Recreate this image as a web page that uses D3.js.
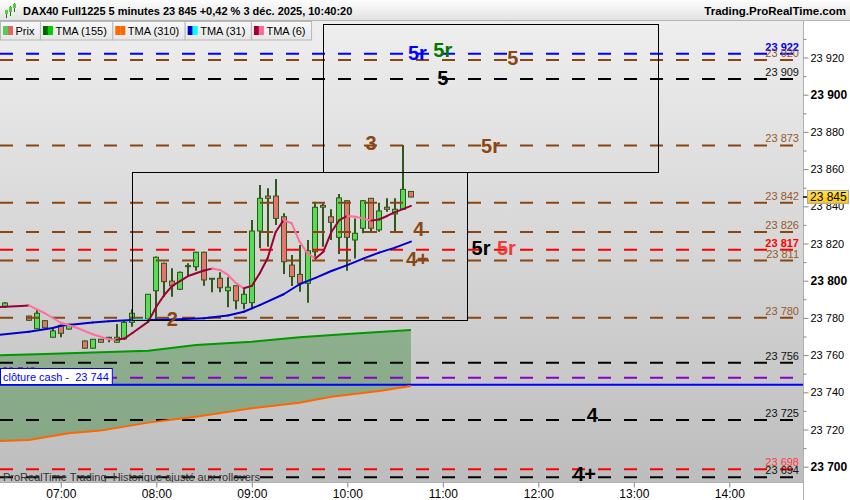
<!DOCTYPE html>
<html><head><meta charset="utf-8">
<script src="https://cdn.jsdelivr.net/npm/d3@7"></script>
<style>
body{margin:0;background:#fff;}
svg{display:block;font-family:"Liberation Sans",Arial,sans-serif;}
text{white-space:pre;}
</style>
</head><body>
<svg id="c" width="850" height="500"></svg>
<script>
// ---------------- DATA ----------------
const candleTimes = ["06:25","06:40","06:45","06:50","06:55","07:00","07:05","07:15","07:20","07:25","07:30","07:35","07:40","07:45","07:55","08:00","08:05","08:10","08:15","08:20","08:25","08:30","08:35","08:40","08:45","08:50","08:55","09:00","09:05","09:10","09:15","09:20","09:25","09:30","09:35","09:40","09:45","09:50","09:55","10:00","10:05","10:10","10:15","10:20","10:25","10:30","10:35","10:40"];
const candleOpen  = [23786.0,23781.0,23774.2,23778.5,23769.6,23776.0,23774.0,23767.6,23763.7,23768.5,23769.0,23766.9,23768.7,23777.6,23779.4,23794.6,23809.4,23799.8,23795.4,23807.6,23807.5,23815.3,23800.8,23801.3,23794.6,23797.3,23787.8,23788.2,23826.7,23845.5,23845.5,23834.4,23808.4,23803.4,23798.6,23815.6,23840.5,23834.4,23823.3,23843.0,23821.9,23828.2,23844.3,23827.3,23839.5,23835.9,23838.4,23848.0];
const candleHigh  = [23788.5,23781.2,23784.6,23778.8,23774.0,23776.2,23776.8,23767.8,23768.7,23768.7,23769.6,23776.7,23778.5,23784.6,23792.9,23813.0,23809.6,23806.7,23805.0,23809.4,23815.5,23815.5,23801.3,23804.5,23801.8,23797.5,23795.9,23832.6,23851.5,23849.7,23854.7,23836.2,23813.8,23819.2,23821.9,23842.5,23841.6,23838.4,23846.6,23843.2,23833.5,23843.4,23844.5,23841.9,23844.3,23844.3,23873.0,23848.2];
const candleLow   = [23785.5,23778.5,23774.0,23774.5,23769.4,23769.6,23773.8,23763.5,23763.5,23766.9,23766.9,23766.9,23768.5,23775.3,23779.2,23779.4,23791.4,23791.4,23795.0,23802.2,23805.4,23797.3,23793.8,23793.8,23785.7,23784.6,23784.6,23784.6,23817.4,23818.3,23829.9,23803.6,23797.2,23794.1,23788.2,23812.9,23818.3,23821.9,23814.4,23805.4,23812.0,23825.5,23826.3,23826.3,23837.1,23826.3,23838.4,23844.8];
const candleClose = [23788.0,23778.7,23782.5,23774.7,23773.0,23771.7,23776.6,23763.7,23768.5,23766.9,23769.6,23769.6,23777.6,23782.5,23792.7,23812.6,23799.5,23797.3,23804.5,23808.1,23815.3,23800.4,23801.3,23796.2,23796.5,23789.2,23792.7,23826.7,23844.3,23844.3,23833.5,23810.2,23802.2,23798.6,23816.1,23839.5,23839.5,23831.4,23844.5,23823.3,23825.5,23843.0,23828.2,23837.5,23838.4,23838.4,23849.1,23845.0];

const tma6Times  = ["06:15","06:25","06:35","06:40","06:45","06:50","07:00","07:10","07:20","07:30","07:35","07:40","07:45","07:55","08:00","08:05","08:10","08:20","08:30","08:35","08:40","08:45","08:50","08:55","09:00","09:05","09:10","09:15","09:20","09:25","09:30","09:35","09:40","09:45","09:50","09:55","10:00","10:05","10:10","10:15","10:20","10:25","10:30","10:35","10:40"];
const tma6Values = [23785.4,23786.0,23786.4,23786.7,23784.6,23782.5,23777.4,23774.7,23771.2,23768.5,23768.2,23768.9,23771.9,23778.0,23786.0,23792.3,23797.2,23802.5,23805.5,23806.5,23805.8,23803.1,23798.8,23795.9,23797.2,23804.0,23812.2,23826.2,23832.6,23830.9,23821.0,23814.7,23811.9,23815.6,23826.2,23832.6,23834.8,23834.4,23833.4,23832.3,23832.9,23834.8,23836.9,23838.5,23840.2];

const tma31Times  = ["06:20","06:40","06:55","07:00","07:20","07:30","07:45","07:55","08:10","08:30","08:45","08:55","09:05","09:20","09:30","09:40","09:50","10:00","10:10","10:20","10:30","10:40"];
const tma31Values = [23770.8,23772.6,23774.6,23775.8,23777.5,23778.2,23778.9,23778.9,23779.1,23779.8,23781.3,23783.3,23786.9,23792.7,23798.1,23801.5,23805.2,23808.4,23811.9,23815.1,23817.8,23821.0];

const tma155Times  = ["06:20","06:45","07:25","07:55","08:25","09:00","09:30","10:00","10:40"];
const tma155Values = [23759.9,23760.5,23761.5,23762.4,23765.4,23767.2,23769.6,23771.3,23773.5];

const tma310Times  = ["06:20","06:40","07:05","07:25","07:55","08:25","09:00","09:30","09:50","10:20","10:40"];
const tma310Values = [23713.8,23714.4,23718.0,23719.4,23723.7,23726.9,23731.4,23734.4,23737.6,23740.7,23743.4];

const levelValues = [23922.0,23918.7,23908.5,23872.7,23841.9,23826.2,23816.6,23810.8,23780.1,23755.9,23747.8,23725.1,23698.6,23694.3];
const levelLabels = ["23 922","23 920","23 909","23 873","23 842","23 826","23 817","23 811","23 780","23 756","23 748","23 725","23 698","23 694"];
const levelKinds  = ["blue","brown","black","brown","brown","brown","red","brown","brown","black","purple","black","red2","black"];

const cashValue = 23744;
const cashLabel = "clôture cash -  23 744";

const annTexts  = ["5r","5r","5","5","3","5r","4","4+","5r","5r","2","4","4+"];
const annTimes  = ["10:44","11:00","11:44","11:00","10:15","11:30","10:45","10:44","11:24","11:40","08:10","12:34","12:29"];
const annPrices = [23922.7,23924.0,23919.9,23908.9,23873.9,23872.4,23828.1,23811.9,23817.6,23817.6,23779.7,23728.1,23696.1];
const annKinds  = ["blue","green","brown","black","brown","brown","brown","brown","black","red","brown","black","black"];

const boxStart = ["07:45","09:45"];
const boxEnd   = ["11:15","13:15"];
const boxHigh  = [23858.3,23937.8];
const boxLow   = [23778.9,23858.3];

const yTickValues = [23700,23710,23720,23730,23740,23750,23760,23770,23780,23790,23800,23810,23820,23830,23840,23850,23860,23870,23880,23890,23900,23910,23920,23930];
const lastPrice = 23845;
const titleText = "DAX40 Full1225 5 minutes 23 845 +0,42 % 3 déc. 2025, 10:40:20";
const siteText = "Trading.ProRealTime.com";
const footText = "ProRealTime Trading  Historique ajusté aux rollovers";
const legendNames = ["Prix","TMA (155)","TMA (310)","TMA (31)","TMA (6)"];

// ---------------- STYLE ----------------
const kindColor = {blue:"#0000ff",brown:"#8b4513",black:"#000000",red:"#ff0000",red2:"#ff0000",purple:"#8800cc",green:"#008000"};
const labelColor = {blue:"#0000ff",brown:"#955a2c",black:"#111111",red:"#ff0000",red2:"#ff3b3b",purple:"#8800cc"};
const annColor = {blue:"#0000ff",green:"#007700",brown:"#8b4513",black:"#000000",red:"#ee3b3b"};
const legendSwatches = [["#55cc55","#e06666"],["#006600","#00cc00"],["#ff6600","#ff6600"],["#0000cc","#00ffff"],["#990033","#ff6699"]];

// ---------------- SETUP ----------------
const svg = d3.select("#c");
const plotL=0, plotR=803, plotT=21, plotB=482;
const T = s => { const [h,m]=s.split(":").map(Number); return new Date(2025,11,3,h,m); };
const xRef = d3.scaleTime().domain([T("08:00"),T("12:00")]).range([156.3,538.3]);
const x = d3.scaleTime().domain([xRef.invert(plotL), xRef.invert(plotR)]).range([plotL,plotR]);
const yRef = d3.scaleLinear().domain([23700,23800]).range([466.7,280.7]);
const y = d3.scaleLinear().domain([yRef.invert(plotB), yRef.invert(plotT)]).range([plotB,plotT]);
const fmt = d3.formatLocale({decimal:",",thousands:" ",grouping:[3],currency:["","€"]}).format(",d");

const defs = svg.append("defs");
const bg = defs.append("linearGradient").attr("id","bg").attr("x1",0).attr("y1",0).attr("x2",0).attr("y2",1);
bg.append("stop").attr("offset","0%").attr("stop-color","#eeeeee");
bg.append("stop").attr("offset","100%").attr("stop-color","#bdbdbd");
const hg = defs.append("linearGradient").attr("id","hg").attr("x1",0).attr("y1",0).attr("x2",0).attr("y2",1);
hg.append("stop").attr("offset","0%").attr("stop-color","#fdfdfd");
hg.append("stop").attr("offset","100%").attr("stop-color","#e2e2e2");
const lg = defs.append("linearGradient").attr("id","lg").attr("x1",0).attr("y1",0).attr("x2",0).attr("y2",1);
lg.append("stop").attr("offset","0%").attr("stop-color","#f8f8f8");
lg.append("stop").attr("offset","100%").attr("stop-color","#e6e6e6");
const pg = defs.append("linearGradient").attr("id","pg").attr("x1",0).attr("y1",0).attr("x2",0).attr("y2",1);
pg.append("stop").attr("offset","0%").attr("stop-color","#ffe45c");
pg.append("stop").attr("offset","100%").attr("stop-color","#ffc400");
defs.append("clipPath").attr("id","clip").append("rect").attr("x",plotL).attr("y",plotT).attr("width",plotR-plotL).attr("height",plotB-plotT);

svg.append("rect").attr("width",850).attr("height",500).attr("fill","#fff");
svg.append("rect").attr("x",plotL).attr("y",plotT).attr("width",plotR-plotL).attr("height",plotB-plotT).attr("fill","url(#bg)");

const g = svg.append("g").attr("clip-path","url(#clip)");

// fill between TMA155 and TMA310
const p155 = tma155Times.map((t,i)=>[x(T(t)), y(tma155Values[i])]);
const p310 = tma310Times.map((t,i)=>[x(T(t)), y(tma310Values[i])]);
g.append("path").attr("d", d3.line()(p155.concat(p310.slice().reverse()))+"Z")
  .attr("fill","rgb(0,110,0)").attr("fill-opacity",0.3);

// candles
const candles = candleTimes.map((t,i)=>({t:T(t),o:candleOpen[i],h:candleHigh[i],l:candleLow[i],c:candleClose[i]}));
const cg = g.append("g");
candles.forEach(d=>{
  const cx = Math.round(x(d.t));
  cg.append("line").attr("x1",cx).attr("x2",cx).attr("y1",y(d.h)).attr("y2",y(d.l))
    .attr("stroke","#2d5a1b").attr("stroke-width",2);
  const top = Math.min(y(d.o),y(d.c)), bot = Math.max(y(d.o),y(d.c));
  const hgt = Math.max(1, bot-top);
  cg.append("rect").attr("x",cx-2.5).attr("y",top).attr("width",5).attr("height",hgt)
    .attr("fill", d.c>=d.o ? "#55dd55" : "#e8756d").attr("stroke","#2d5a1b").attr("stroke-width",1);
});

// level lines
levelValues.forEach((v,i)=>{
  g.append("line").attr("x1",plotL).attr("x2",plotR).attr("y1",y(v)).attr("y2",y(v))
    .attr("stroke",kindColor[levelKinds[i]]).attr("stroke-width",2).attr("stroke-dasharray","13,13");
});
// cash line
g.append("line").attr("x1",plotL).attr("x2",plotR).attr("y1",y(cashValue)).attr("y2",y(cashValue))
  .attr("stroke","#0000ff").attr("stroke-width",2);

// moving averages
function segLine(times, vals, up, down){
  for(let i=1;i<times.length;i++){
    g.append("line").attr("x1",x(T(times[i-1]))).attr("y1",y(vals[i-1]))
      .attr("x2",x(T(times[i]))).attr("y2",y(vals[i]))
      .attr("stroke", vals[i]>vals[i-1]?up:down).attr("stroke-width",2).attr("stroke-linecap","round");
  }
}
const line = d3.line();
g.append("path").attr("d",line(p310)).attr("fill","none").attr("stroke","#ff6600").attr("stroke-width",2);
g.append("path").attr("d",line(p155)).attr("fill","none").attr("stroke","#009900").attr("stroke-width",2);
segLine(tma31Times, tma31Values, "#0000cc", "#00e5ee");
segLine(tma6Times, tma6Values, "#990033", "#ff6f9f");

// boxes
boxStart.forEach((s,i)=>{
  const x0 = Math.round(x(T(s)))+0.5, x1 = Math.round(x(T(boxEnd[i])))+0.5;
  const y0 = Math.round(y(boxHigh[i]))+0.5, y1 = Math.round(y(boxLow[i]))+0.5;
  g.append("rect").attr("x",x0).attr("y",y0).attr("width",x1-x0).attr("height",y1-y0)
    .attr("fill","none").attr("stroke","#000").attr("stroke-width",1);
});

// level value labels (right)
levelValues.forEach((v,i)=>{
  const k = levelKinds[i];
  if(k==="purple"){
    g.append("text").attr("x",2).attr("y",y(v)-3).attr("font-size",11).attr("fill",labelColor[k]).text(levelLabels[i]);
  } else {
    g.append("text").attr("x",799).attr("y",y(v)-3).attr("text-anchor","end").attr("font-size",11)
      .attr("font-weight",(k==="blue"||k==="red")?"bold":"normal")
      .attr("fill",labelColor[k]).text(levelLabels[i]);
  }
});

// annotations
annTexts.forEach((s,i)=>{
  g.append("text").attr("x",x(T(annTimes[i]))).attr("y",y(annPrices[i])).attr("dy","0.36em")
    .attr("text-anchor","middle").attr("font-size",20).attr("font-weight","bold")
    .attr("fill",annColor[annKinds[i]]).text(s);
});

// cash label box
const cy = Math.round(y(cashValue));
const cashBox = svg.append("g");
const cashTxt = cashBox.append("text").attr("x",3).attr("y",cy-4.5).attr("font-size",11).attr("fill","#0000ff").text(cashLabel);
const cw = cashTxt.node().getComputedTextLength();
cashBox.insert("rect","text").attr("x",0.5).attr("y",cy-16.5).attr("width",cw+6).attr("height",16).attr("fill","#fff").attr("stroke","#0000ff");

// footer text
svg.append("text").attr("x",3).attr("y",480.5).attr("font-size",11).attr("fill","#333").text(footText);

// axes
svg.append("line").attr("x1",plotR+0.5).attr("x2",plotR+0.5).attr("y1",plotT).attr("y2",500).attr("stroke","#b0b0b0");
svg.append("line").attr("x1",0).attr("x2",plotR).attr("y1",plotB+0.5).attr("y2",plotB+0.5).attr("stroke","#b0b0b0");

const ya = svg.append("g").attr("transform",`translate(${plotR+0.5},0)`);
ya.call(d3.axisRight(y).tickValues(yTickValues).tickSize(5).tickFormat(d=> d%20===0 ? fmt(d) : ""));
ya.select(".domain").remove();
ya.selectAll(".tick line").attr("stroke","#888").attr("x2",d=>d%20===0?5:3);
ya.selectAll(".tick text").attr("x",7).attr("fill","#000").attr("font-family","Liberation Sans, Arial, sans-serif")
  .attr("font-size",d=>d%100===0?12:11).attr("font-weight",d=>d%100===0?"bold":"normal");

const xa = svg.append("g").attr("transform",`translate(0,${plotB+0.5})`);
xa.call(d3.axisBottom(x).ticks(d3.timeHour.every(1)).tickSize(5).tickFormat(d3.timeFormat("%H:%M")));
xa.select(".domain").remove();
xa.selectAll(".tick line").attr("stroke","#888");
xa.selectAll(".tick text").attr("fill","#000").attr("font-size",12).attr("dy","0.6em").attr("font-family","Liberation Sans, Arial, sans-serif");

// current price tag
const py = y(lastPrice);
svg.append("line").attr("x1",plotR).attr("x2",plotR+4).attr("y1",py).attr("y2",py).attr("stroke","#000").attr("stroke-width",1.5);
svg.append("rect").attr("x",plotR+4.5).attr("y",py-6.5).attr("width",41).attr("height",13).attr("fill","url(#pg)").attr("stroke","#aaa");
svg.append("text").attr("x",plotR+7).attr("y",py).attr("dy","0.36em").attr("font-size",12).attr("fill","#000").text(fmt(lastPrice));

// header
svg.append("rect").attr("x",0).attr("y",0).attr("width",850).attr("height",20).attr("fill","url(#hg)");
svg.append("line").attr("x1",0).attr("x2",850).attr("y1",20.5).attr("y2",20.5).attr("stroke","#b4b4b4");
const icon = svg.append("g");
[[6,11,16,10,14],[10,6,14,7,12],[14,3,10,4,8]].forEach(a=>{
  icon.append("line").attr("x1",a[0]+0.5).attr("x2",a[0]+0.5).attr("y1",a[1]).attr("y2",a[2]+2).attr("stroke","#2d6a1b");
  icon.append("rect").attr("x",a[0]-1).attr("y",a[3]).attr("width",3).attr("height",a[4]-a[3]).attr("fill","#55cc44");
});
svg.append("text").attr("x",23).attr("y",15).attr("font-size",11).attr("font-weight","bold").attr("fill","#000").text(titleText);
svg.append("text").attr("x",846).attr("y",15).attr("text-anchor","end").attr("font-size",11.5).attr("font-weight","bold").attr("fill","#000").text(siteText);

// legend
let lx = 0.5;
legendNames.forEach((n,i)=>{
  const lgG = svg.append("g");
  const t = lgG.append("text").attr("x",lx+15).attr("y",35).attr("font-size",11).attr("fill","#000").text(n);
  const w = 15 + t.node().getComputedTextLength() + 6;
  lgG.insert("rect","text").attr("x",lx).attr("y",21.5).attr("width",w).attr("height",18.5).attr("fill","url(#lg)").attr("stroke","#b8b8b8");
  lgG.insert("rect","text").attr("x",lx+2.5).attr("y",26).attr("width",5).attr("height",9).attr("fill",legendSwatches[i][0]);
  lgG.insert("rect","text").attr("x",lx+7.5).attr("y",26).attr("width",5).attr("height",9).attr("fill",legendSwatches[i][1]);
  lx += w;
});
</script>
</body></html>
